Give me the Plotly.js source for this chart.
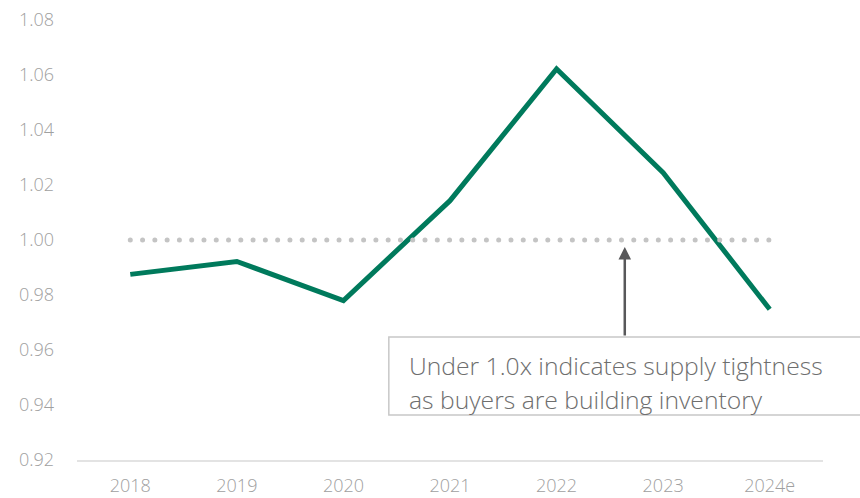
<!DOCTYPE html>
<html><head><meta charset="utf-8">
<script src="https://cdn.plot.ly/plotly-3.0.1.min.js"></script>
<style>
html,body{margin:0;padding:0;background:#fff;}
#chart{width:860px;height:498px;}
.scatterlayer .trace:nth-child(2) .js-line{stroke-linecap:round;}
</style>
</head><body>
<div id="chart"></div>
<script>
const years = ["2018","2019","2020","2021","2022","2023","2024e"];
const ratio = [0.9875, 0.9922, 0.978, 1.0143, 1.0622, 1.0245, 0.9748];
const thresholdX = ["2018","2024e"];
const thresholdY = [1.0, 1.0];
const yTicks = [0.92,0.94,0.96,0.98,1.00,1.02,1.04,1.06,1.08];
const note1 = "Under 1.0x indicates supply tightness";
const note2 = "as buyers are building inventory";

const traces = [
  {x: years, y: ratio, type:'scatter', mode:'lines',
   line:{color:'#007A5C', width:5}, hoverinfo:'skip'},
  {x: thresholdX, y: thresholdY, type:'scatter', mode:'lines',
   line:{color:'#c4c4c4', width:5, dash:'0px,12.28px'}, hoverinfo:'skip'}
];
const fontFam = '"Open Sans", "Segoe UI", sans-serif';
const layout = {
  width:860, height:498,
  margin:{l:77, r:37, t:20, b:38},
  paper_bgcolor:'#fff', plot_bgcolor:'#fff',
  showlegend:false,
  font:{family:fontFam, color:'#a0a0a0'},
  xaxis:{type:'category', range:[-0.5,6.5], showgrid:false, zeroline:false,
    showline:true, linecolor:'#e3e3e3', linewidth:2, ticks:'',
    ticklabelstandoff:8,
    tickfont:{size:18, color:'#a0a0a0', family:fontFam, weight:300}},
  yaxis:{range:[0.92,1.08], tickvals:yTicks, ticktext:yTicks.map(v=>v.toFixed(2)),
    showgrid:false, zeroline:false, showline:false, ticks:'',
    ticklabelstandoff:22,
    tickfont:{size:18, color:'#a0a0a0', family:fontFam, weight:300}},
  shapes:[
    {type:'rect', xref:'paper', yref:'paper', x0:0.418, x1:1.07, y0:0.1023, y1:0.2795,
     line:{color:'#c8c8c8', width:1.5}, fillcolor:'#fff', layer:'above'}
  ],
  annotations:[
    {x:4.64, y:0.9975, xref:'x', yref:'y', text:'', showarrow:true, ax:0, ay:90,
     arrowhead:2, arrowsize:1, arrowwidth:2.5, arrowcolor:'#58585a'},
    {xref:'paper', yref:'paper', x:0.443, y:(460-365)/440, xanchor:'left', yanchor:'middle',
     text:note1, showarrow:false, font:{size:24.7, color:'#6e6e6e', family:fontFam, weight:300}},
    {xref:'paper', yref:'paper', x:0.443, y:(460-399)/440, xanchor:'left', yanchor:'middle',
     text:note2, showarrow:false, font:{size:24.7, color:'#6e6e6e', family:fontFam, weight:300}}
  ]
};
Plotly.newPlot('chart', traces, layout, {displayModeBar:false, staticPlot:true});
</script>
</body></html>
